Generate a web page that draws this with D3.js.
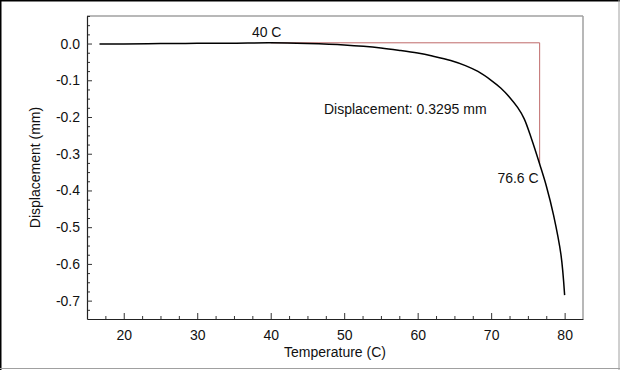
<!DOCTYPE html>
<html>
<head>
<meta charset="utf-8">
<script src="https://cdn.jsdelivr.net/npm/d3@7.9.0/dist/d3.min.js"></script>
<style>
  body { margin: 0; background: #fff; }
  svg { display: block; font-family: 'Liberation Sans', Arial, sans-serif; }
</style>
</head>
<body>
<div id="chart"></div>
<script>
// curve
const temperature = [16.7, 20, 25, 30, 35, 40, 45, 50, 55, 57.7, 60, 62, 64.5, 66.5, 68.2, 70, 71.3, 72.5, 73.6, 74.5, 75.5, 76.6, 77.5, 78.5, 79.5, 80];
const displacement = [-0.001, -0.001, 0.0, 0.0005, 0.001, 0.002, 0.0, -0.004, -0.012, -0.019, -0.026, -0.034, -0.046, -0.06, -0.076, -0.1, -0.121, -0.146, -0.174, -0.205, -0.26, -0.328, -0.387, -0.468, -0.575, -0.685];

const xTicks = [20, 30, 40, 50, 60, 70, 80];
const yTicks = [0.0, -0.1, -0.2, -0.3, -0.4, -0.5, -0.6, -0.7];

// annotation: from 40 C to 76.6 C
const startTemp = 40;
const startDisp = 0.002;
const endTemp = 76.6;
const endDisp = -0.328;
const dispLabel = 'Displacement: 0.3295 mm';

const width = 620;
const height = 370;
const margin = {top: 16, right: 37, bottom: 51, left: 87};

const svg = d3.select('#chart')
  .append('svg')
  .attr('width', width)
  .attr('height', height);

// outer frame
svg.append('line').attr('x1', 0).attr('x2', width).attr('y1', 0.75).attr('y2', 0.75)
  .attr('stroke', '#000').attr('stroke-width', 1.5);
svg.append('line').attr('x1', 0.75).attr('x2', 0.75).attr('y1', 0).attr('y2', height)
  .attr('stroke', '#000').attr('stroke-width', 1.5);
svg.append('line').attr('x1', width - 1).attr('x2', width - 1).attr('y1', 0).attr('y2', height)
  .attr('stroke', '#a0a0a0');
svg.append('line').attr('x1', 0).attr('x2', width).attr('y1', height - 1.5).attr('y2', height - 1.5)
  .attr('stroke', '#a0a0a0');

const xScale = d3.scaleLinear().domain([15, 82.5]).range([margin.left, width - margin.right]);
const yScale = d3.scaleLinear().domain([-0.75, 0.075]).range([height - margin.bottom, margin.top]);

const x0 = margin.left, x1 = width - margin.right;
const y0 = margin.top, y1 = height - margin.bottom;

// top and right of plot frame in gray
svg.append('line').attr('x1', x0).attr('x2', x1).attr('y1', y0).attr('y2', y0)
  .attr('stroke', '#a0a0a0').attr('stroke-width', 1.5);
svg.append('line').attr('x1', x1).attr('x2', x1).attr('y1', y0).attr('y2', y1)
  .attr('stroke', '#a0a0a0').attr('stroke-width', 1.5);

// minor ticks
const xMinor = d3.range(17.5, 82.5, 2.5).filter(d => !xTicks.includes(d));
const yMinor = d3.range(-0.725, 0.076, 0.025).filter(d => Math.abs(Math.round(d * 10) - d * 10) > 0.01);

const xAxis = svg.append('g').attr('transform', `translate(0, ${y1})`);
xAxis.call(d3.axisBottom(xScale).tickValues(xMinor).tickSize(-3).tickFormat(''));
xAxis.call(g => g.select('.domain').remove());
const xMajor = svg.append('g').attr('transform', `translate(0, ${y1})`)
  .call(d3.axisBottom(xScale).tickValues(xTicks).tickSize(-6).tickSizeOuter(0).tickPadding(11).tickFormat(d3.format('d')));

const yAxis = svg.append('g').attr('transform', `translate(${x0}, 0)`);
yAxis.call(d3.axisLeft(yScale).tickValues(yMinor).tickSize(-3).tickFormat(''));
yAxis.call(g => g.select('.domain').remove());
const yMajor = svg.append('g').attr('transform', `translate(${x0}, 0)`)
  .call(d3.axisLeft(yScale).tickValues(yTicks).tickSize(-5).tickSizeOuter(0).tickPadding(7).tickFormat(d3.format('.1f')));

svg.selectAll('.tick line').attr('stroke', '#333');
svg.selectAll('.domain').attr('stroke', '#222').attr('stroke-width', 1.2);
svg.selectAll('.tick text').attr('font-size', 14).attr('fill', '#111')
  .attr('font-family', "'Liberation Sans', Arial, sans-serif");
yMajor.selectAll('.tick text').text(d => d3.format('.1f')(d).replace('−', '-'));

// axis titles
svg.append('text')
  .attr('x', (x0 + x1) / 2).attr('y', 357)
  .attr('text-anchor', 'middle').attr('font-size', 14).attr('fill', '#111')
  .text('Temperature (C)');
svg.append('text')
  .attr('transform', `translate(40, ${(y0 + y1) / 2}) rotate(-90)`)
  .attr('text-anchor', 'middle').attr('font-size', 14).attr('fill', '#111')
  .text('Displacement (mm)');

// red measurement line
const redPath = d3.line().x(d => xScale(d[0])).y(d => yScale(d[1]));
svg.append('path')
  .attr('d', redPath([[startTemp, startDisp], [endTemp, startDisp], [endTemp, endDisp]]))
  .attr('fill', 'none').attr('stroke', '#bf6a6a').attr('stroke-width', 1);

// data curve
const points = temperature.map((t, i) => [t, displacement[i]]);
const line = d3.line()
  .x(d => xScale(d[0]))
  .y(d => yScale(d[1]))
  .curve(d3.curveCatmullRom.alpha(0.5));
svg.append('path')
  .attr('d', line(points))
  .attr('fill', 'none').attr('stroke', '#000').attr('stroke-width', 1.5);

// labels
svg.append('text')
  .attr('x', xScale(startTemp) - 4).attr('y', yScale(startDisp) - 6)
  .attr('text-anchor', 'middle').attr('font-size', 14).attr('fill', '#111')
  .text(startTemp + ' C');
svg.append('text')
  .attr('x', xScale(47.25)).attr('y', yScale(-0.177) + 5)
  .attr('font-size', 14).attr('fill', '#111')
  .text(dispLabel);
svg.append('text')
  .attr('x', xScale(endTemp) - 1).attr('y', yScale(endDisp) + 19)
  .attr('text-anchor', 'end').attr('font-size', 14).attr('fill', '#111')
  .text(endTemp + ' C');
</script>
</body>
</html>
